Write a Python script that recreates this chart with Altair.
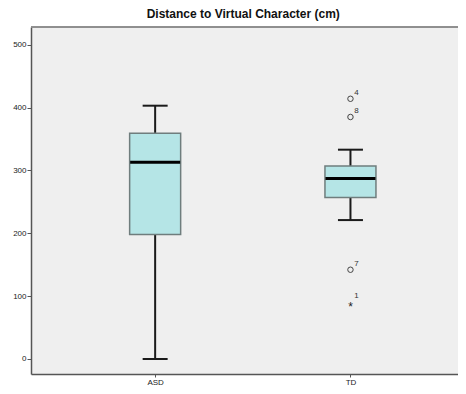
import altair as alt
import pandas as pd

# ---- data ----
groups = ["ASD", "TD"]
group_pos = [1, 2]
whisker_low = [0, 221]
q1 = [198, 257]
median = [313, 287]
q3 = [359, 307]
whisker_high = [403, 333]

outlier_group = ["TD", "TD", "TD"]
outlier_value = [414, 385, 142]
outlier_label = ["4", "8", "7"]

extreme_group = ["TD"]
extreme_value = [89]
extreme_label = ["1"]

y_ticks = [0, 100, 200, 300, 400, 500]

pos = dict(zip(groups, group_pos))
box_df = pd.DataFrame({
    "group": groups, "pos": group_pos, "low": whisker_low, "q1": q1,
    "median": median, "q3": q3, "high": whisker_high,
})
out_df = pd.DataFrame({
    "group": outlier_group, "pos": [pos[g] for g in outlier_group],
    "value": outlier_value, "label": outlier_label,
})
ext_df = pd.DataFrame({
    "group": extreme_group, "pos": [pos[g] for g in extreme_group],
    "value": extreme_value, "label": extreme_label,
})

label_expr = "datum.value == 1 ? 'ASD' : (datum.value == 2 ? 'TD' : '')"

W = 427
H = 347
x_scale = alt.Scale(domain=[0.39, 0.39 + W / 200], nice=False, zero=False)
y_scale = alt.Scale(domain=[-23.9, 528.2], nice=False, zero=False)

x_enc = alt.X("pos:Q", scale=x_scale, title=None,
              axis=alt.Axis(values=[1, 2], labelExpr=label_expr, grid=False,
                            domainColor="#555555", domainWidth=1.5,
                            tickColor="#555555", tickSize=3, labelFontSize=8,
                            labelColor="#222222", labelFont="Liberation Sans",
                            labelPadding=1))
y_axis = alt.Axis(values=y_ticks, grid=False, domainColor="#555555",
                  domainWidth=1.5, tickColor="#555555", tickSize=4,
                  labelFontSize=8, labelColor="#222222",
                  labelFont="Liberation Sans", labelPadding=1)

base = alt.Chart(box_df)

top_border = base.mark_rule(color="#888888", strokeWidth=1.5).encode(
    x=alt.value(0), x2=alt.value(W), y=alt.value(0))
whisker = base.mark_rule(color="#1a1a1a", strokeWidth=2).encode(
    x=x_enc, y=alt.Y("low:Q", scale=y_scale, axis=y_axis, title=None),
    y2="high:Q")
cap_low = base.mark_tick(orient="horizontal", size=25, thickness=2,
                         color="#1a1a1a", opacity=1).encode(
    x="pos:Q", y="low:Q")
cap_high = base.mark_tick(orient="horizontal", size=25, thickness=2,
                          color="#1a1a1a", opacity=1).encode(
    x="pos:Q", y="high:Q")
box = base.mark_bar(size=51, color="#b5e5e6", stroke="#6f7d7d",
                    strokeWidth=1.5).encode(x="pos:Q", y="q1:Q", y2="q3:Q")
med = base.mark_tick(orient="horizontal", size=50, thickness=3,
                     color="#000000", opacity=1).encode(
    x="pos:Q", y="median:Q")

outliers = alt.Chart(out_df).mark_point(shape="circle", size=30, filled=False,
                                        color="#444444", strokeWidth=1,
                                        opacity=1).encode(
    x="pos:Q", y="value:Q")
out_labels = alt.Chart(out_df).mark_text(dx=6, dy=-6, fontSize=8,
                                         color="#333333",
                                         font="Liberation Sans").encode(
    x="pos:Q", y="value:Q", text="label:N")
extremes = alt.Chart(ext_df).mark_text(text="*", fontSize=12, dy=4,
                                       color="#222222",
                                       font="Liberation Sans").encode(
    x="pos:Q", y="value:Q")
ext_labels = alt.Chart(ext_df).mark_text(dx=6, dy=-7, fontSize=8,
                                         color="#333333",
                                         font="Liberation Sans").encode(
    x="pos:Q", y="value:Q", text="label:N")

chart = alt.layer(whisker, top_border, cap_low, cap_high, box, med, outliers,
                  out_labels, extremes, ext_labels).properties(
    width=W, height=H,
    background="white",
    title=alt.TitleParams("Distance to Virtual Character (cm)",
                          font="Liberation Sans", fontSize=12,
                          fontWeight="bold", color="#111111", offset=5,
                          anchor="start", dx=134),
    autosize="none",
    padding={"left": 23, "top": 19, "right": 0, "bottom": 12},
).configure_view(fill="#efefef", stroke=None)

chart.save("out.html", embed_options={"renderer": "svg", "actions": False})
